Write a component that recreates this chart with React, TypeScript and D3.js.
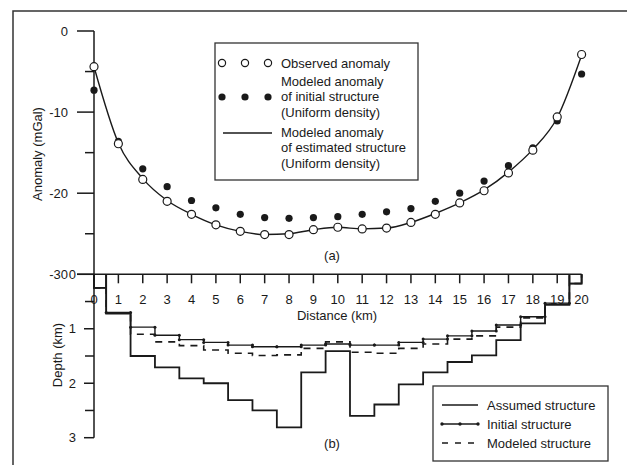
import * as d3 from "d3";

const width = 627;
const height = 465;

// stations (km)
const stations = [0, 1, 2, 3, 4, 5, 6, 7, 8, 9, 10, 11, 12, 13, 14, 15, 16, 17, 18, 19, 20];

// gravity anomaly (mGal)
const observed = [-4.4, -13.9, -18.3, -21.0, -22.6, -23.9, -24.7, -25.1, -25.1, -24.5, -24.2, -24.4, -24.3, -23.6, -22.6, -21.2, -19.7, -17.5, -14.7, -10.6, -2.9];
const initialAnomaly = [-7.3, -13.6, -17.0, -19.2, -20.9, -21.8, -22.6, -23.0, -23.1, -23.0, -22.9, -22.6, -22.3, -21.9, -21.0, -20.0, -18.5, -16.6, -14.4, -11.1, -5.3];
const estimatedAnomaly = [-4.4, -13.8, -18.2, -20.9, -22.6, -23.9, -24.7, -25.1, -25.0, -24.5, -24.2, -24.4, -24.3, -23.6, -22.5, -21.2, -19.6, -17.4, -14.6, -10.7, -3.0];

// basement depth of each block (km)
const assumedDepth = [0.25, 0.72, 1.5, 1.71, 1.91, 2.0, 2.31, 2.5, 2.81, 1.8, 1.41, 2.6, 2.39, 2.02, 1.8, 1.61, 1.49, 1.21, 0.9, 0.56, 0.17];
const initialDepth = [0.25, 0.7, 0.97, 1.12, 1.2, 1.25, 1.3, 1.33, 1.33, 1.3, 1.28, 1.3, 1.3, 1.25, 1.19, 1.13, 1.04, 0.93, 0.78, 0.53, 0.17];
const modeledDepth = [0.25, 0.71, 1.1, 1.24, 1.31, 1.39, 1.45, 1.49, 1.48, 1.36, 1.24, 1.43, 1.45, 1.36, 1.28, 1.19, 1.13, 0.97, 0.8, 0.55, 0.17];

const anomalyTicks = [0, -10, -20, -30];
const anomalyMinor = [-5, -15, -25];
const depthTicks = [1, 2, 3];
const depthMinor = [0.5, 1.5, 2.5];

const legendTop = ["Observed anomaly"];
const legendInitial = ["Modeled anomaly", "of initial structure", "(Uniform density)"];
const legendEstimated = ["Modeled anomaly", "of estimated structure", "(Uniform density)"];
const legendBottom = ["Assumed structure", "Initial structure", "Modeled structure"];

const font = "'Liberation Sans', Arial, sans-serif";
const ink = "#1a1a1a";

const x = d3.scaleLinear().domain([0, 20]).range([94, 581.6]);
const yA = d3.scaleLinear().domain([0, -30]).range([31, 274.3]);
const yD = d3.scaleLinear().domain([0, 3]).range([274.3, 437.7]);

function stepPoints(depths: number[]): [number, number][] {
  const last = depths.length - 1;
  const pts: [number, number][] = [[0, 0]];
  depths.forEach((dep, i) => {
    const x0 = Math.max(0, i - 0.5);
    const x1 = Math.min(last, i + 0.5);
    if (i === 1 || i === last) pts.push([x0, 0]);
    pts.push([x0, dep], [x1, dep]);
  });
  pts.push([last, 0]);
  return pts;
}

const stepLine = d3
  .line<[number, number]>()
  .x((d) => x(d[0]))
  .y((d) => yD(d[1]));

const anomalyLine = d3
  .line<number>()
  .x((_, i) => x(stations[i]))
  .y((d) => yA(d))
  .curve(d3.curveMonotoneX);

export default function App() {
  const initPts = stepPoints(initialDepth).filter((p) => p[1] > 0.3);
  return (
    <svg
      width={width}
      height={height}
      style={{ position: "absolute", left: 0, top: 0, background: "#fff" }}
      fontFamily={font}
      fontSize={13}
    >
      <rect x={13} y={11} width={700} height={600} fill="none" stroke="#333" strokeWidth={1.5} />

      {/* anomaly axis */}
      <line x1={94} x2={94} y1={yA(0)} y2={yA(-30)} stroke={ink} strokeWidth={1.5} />
      {anomalyTicks.map((t) => (
        <g key={t}>
          <line x1={77} x2={94} y1={yA(t)} y2={yA(t)} stroke={ink} strokeWidth={1.5} />
          <text x={68} y={yA(t)} dy="0.35em" textAnchor="end" fill={ink}>
            {t}
          </text>
        </g>
      ))}
      {anomalyMinor.map((t) => (
        <line key={t} x1={85} x2={94} y1={yA(t)} y2={yA(t)} stroke={ink} strokeWidth={1.5} />
      ))}
      <text transform={`translate(42,154) rotate(-90)`} textAnchor="middle" fill={ink}>
        Anomaly (mGal)
      </text>

      {/* anomaly curves */}
      <path d={anomalyLine(estimatedAnomaly) ?? ""} fill="none" stroke={ink} strokeWidth={1.4} />
      {initialAnomaly.map((v, i) => (
        <circle key={"i" + i} cx={x(stations[i])} cy={yA(v)} r={3.6} fill={ink} />
      ))}
      {observed.map((v, i) => (
        <circle key={"o" + i} cx={x(stations[i])} cy={yA(v)} r={4} fill="#fff" stroke={ink} strokeWidth={1.2} />
      ))}

      {/* top legend */}
      <rect x={215} y={43} width={203} height={137} fill="#fff" stroke="#333" strokeWidth={1.3} />
      {[222, 245, 268].map((cx) => (
        <circle key={"lo" + cx} cx={cx} cy={63} r={3.6} fill="#fff" stroke={ink} strokeWidth={1.2} />
      ))}
      {legendTop.map((s, i) => (
        <text key={s} x={281} y={63 + i * 15.5} dy="0.35em" fill={ink}>
          {s}
        </text>
      ))}
      {[222, 245, 268].map((cx) => (
        <circle key={"li" + cx} cx={cx} cy={97} r={3.6} fill={ink} />
      ))}
      {legendInitial.map((s, i) => (
        <text key={s} x={281} y={81 + i * 15.5} dy="0.35em" fill={ink}>
          {s}
        </text>
      ))}
      <line x1={223} x2={272} y1={133} y2={133} stroke={ink} strokeWidth={1.4} />
      {legendEstimated.map((s, i) => (
        <text key={s + i} x={281} y={132 + i * 15.5} dy="0.35em" fill={ink}>
          {s}
        </text>
      ))}
      <text x={332} y={255} dy="0.35em" textAnchor="middle" fill={ink}>
        (a)
      </text>

      {/* distance axis */}
      <line x1={77} x2={x(20)} y1={yD(0)} y2={yD(0)} stroke={ink} strokeWidth={1.6} />
      {stations.map((s) => (
        <g key={"x" + s}>
          {s > 0 && <line x1={x(s)} x2={x(s)} y1={yD(0)} y2={yD(0) + 9} stroke={ink} strokeWidth={1.5} />}
          <text x={x(s)} y={299} dy="0.35em" textAnchor="middle" fill={ink}>
            {s}
          </text>
        </g>
      ))}
      <text x={337} y={315} dy="0.35em" textAnchor="middle" fill={ink}>
        Distance (km)
      </text>

      {/* depth axis */}
      <line x1={94} x2={94} y1={yD(0)} y2={yD(3)} stroke={ink} strokeWidth={1.5} />
      <text x={76} y={yD(0)} dy="0.35em" textAnchor="end" fill={ink}>
        0
      </text>
      {depthTicks.map((t) => (
        <g key={"d" + t}>
          <line x1={84} x2={94} y1={yD(t)} y2={yD(t)} stroke={ink} strokeWidth={1.5} />
          <text x={76} y={yD(t)} dy="0.35em" textAnchor="end" fill={ink}>
            {t}
          </text>
        </g>
      ))}
      {depthMinor.map((t) => (
        <line key={"dm" + t} x1={85} x2={94} y1={yD(t)} y2={yD(t)} stroke={ink} strokeWidth={1.5} />
      ))}
      <text transform={`translate(62,355) rotate(-90)`} textAnchor="middle" fill={ink}>
        Depth (km)
      </text>

      {/* structures */}
      <path d={stepLine(stepPoints(modeledDepth)) ?? ""} fill="none" stroke={ink} strokeWidth={1.6} strokeDasharray="7,6" />
      <path d={stepLine(stepPoints(initialDepth)) ?? ""} fill="none" stroke={ink} strokeWidth={1.4} />
      {initPts.map((p, i) => (
        <circle key={"ip" + i} cx={x(p[0])} cy={yD(p[1])} r={1.5} fill={ink} />
      ))}
      <path d={stepLine(stepPoints(assumedDepth)) ?? ""} fill="none" stroke={ink} strokeWidth={1.8} />

      <text x={332} y={443} dy="0.35em" textAnchor="middle" fill={ink}>
        (b)
      </text>

      {/* bottom legend */}
      <rect x={433} y={386} width={175} height={75} fill="#fff" stroke="#333" strokeWidth={1.3} />
      <line x1={442} x2={478} y1={405} y2={405} stroke={ink} strokeWidth={1.4} />
      <line x1={442} x2={478} y1={424} y2={424} stroke={ink} strokeWidth={1.4} />
      {[442, 460, 478].map((cx) => (
        <circle key={"lb" + cx} cx={cx} cy={424} r={1.7} fill={ink} />
      ))}
      <line x1={442} x2={478} y1={443} y2={443} stroke={ink} strokeWidth={1.5} strokeDasharray="6,7" />
      {legendBottom.map((s, i) => (
        <text key={s} x={487} y={405 + i * 19} dy="0.35em" fill={ink}>
          {s}
        </text>
      ))}
    </svg>
  );
}
